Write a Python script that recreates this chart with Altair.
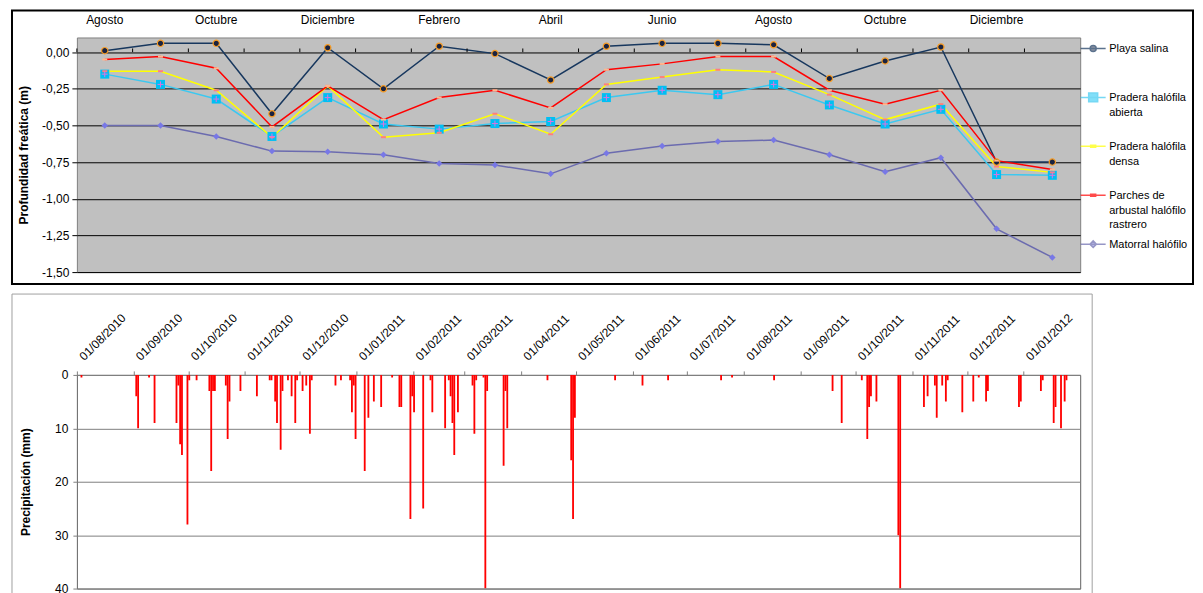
import altair as alt
import pandas as pd

FONT = "Liberation Sans"

# ---------------- Top chart data (profundidad freática, m) ----------------
meses = ["2010-08", "2010-09", "2010-10", "2010-11", "2010-12", "2011-01",
         "2011-02", "2011-03", "2011-04", "2011-05", "2011-06", "2011-07",
         "2011-08", "2011-09", "2011-10", "2011-11", "2011-12", "2012-01"]
nombres_mes = ["Agosto", "Septiembre", "Octubre", "Noviembre", "Diciembre", "Enero",
               "Febrero", "Marzo", "Abril", "Mayo", "Junio", "Julio",
               "Agosto", "Septiembre", "Octubre", "Noviembre", "Diciembre", "Enero"]

series = ["Playa salina", "Pradera halófila abierta", "Pradera halófila densa",
          "Parches de arbustal halófilo rastrero", "Matorral halófilo"]

playa_salina = [0.01, 0.06, 0.06, -0.42, 0.03, -0.25, 0.04, -0.01, -0.19,
                0.04, 0.06, 0.06, 0.05, -0.18, -0.06, 0.035, -0.75, -0.75]
pradera_abierta = [-0.15, -0.22, -0.32, -0.575, -0.31, -0.49, -0.525, -0.487, -0.473,
                   -0.31, -0.26, -0.29, -0.22, -0.36, -0.49, -0.39, -0.835, -0.84]
pradera_densa = [-0.13, -0.13, -0.26, -0.58, -0.23, -0.58, -0.55, -0.42, -0.56,
                 -0.22, -0.17, -0.12, -0.135, -0.29, -0.46, -0.355, -0.78, -0.82]
parches = [-0.05, -0.03, -0.11, -0.51, -0.23, -0.46, -0.31, -0.26, -0.38,
           -0.12, -0.08, -0.03, -0.03, -0.26, -0.355, -0.26, -0.74, -0.80]
matorral = [-0.50, -0.50, -0.575, -0.675, -0.68, -0.70, -0.76, -0.77, -0.83,
            -0.69, -0.64, -0.61, -0.60, -0.70, -0.815, -0.72, -1.205, -1.40]

colores_linea = ["#17375E", "#3CC8F0", "#FFFF00", "#FF0000", "#6B6BAF"]
colores_marcador = ["#1A2340", "#00BFF3", "#FF7C80", "#FFB890", "#7878E6"]
# marker shapes used on the plot (unit paths, size 100 -> 5 px per unit)
formas_marcador = [
    "M0.6,0A0.6,0.6,0,1,1,-0.6,0A0.6,0.6,0,1,1,0.6,0Z",
    "M-0.9,-0.9L0.9,-0.9L0.9,0.9L-0.9,0.9Z",
    "M-0.5,-0.2L0.5,-0.2L0.5,0.2L-0.5,0.2Z",
    "M-0.5,-0.2L0.5,-0.2L0.5,0.2L-0.5,0.2Z",
    "M0,-0.65L0.65,0L0,0.65L-0.65,0Z",
]
# legend symbols: a line segment plus the marker (drawn 1 unit lower to sit on the first text line)
formas_leyenda = [
    "M-2.5,1L2.5,1M0.6,1A0.6,0.6,0,1,1,-0.6,1A0.6,0.6,0,1,1,0.6,1Z",
    "M-2.5,1L2.5,1M-0.9,0.1L0.9,0.1L0.9,1.9L-0.9,1.9Z",
    "M-2.5,1L2.5,1M-0.5,0.8L0.5,0.8L0.5,1.2L-0.5,1.2Z",
    "M-2.5,1L2.5,1M-0.5,0.8L0.5,0.8L0.5,1.2L-0.5,1.2Z",
    "M-2.5,1L2.5,1M0,0.35L0.65,1L0,1.65L-0.65,1Z",
]
etiquetas_leyenda = [
    ["Playa salina", "", ""],
    ["Pradera halófila", "abierta", ""],
    ["Pradera halófila", "densa", ""],
    ["Parches de", "arbustal halófilo", "rastrero"],
    ["Matorral halófilo", "", ""],
]
y_ticks_top = [-1.5, -1.25, -1.0, -0.75, -0.5, -0.25, 0.0]

# ---------------- Bottom chart data (precipitación, mm) ----------------
fechas = [
    "2010-08-03", "2010-09-02", "2010-09-03", "2010-09-09", "2010-09-12", "2010-09-24",
    "2010-09-25", "2010-09-26", "2010-09-27", "2010-09-30", "2010-10-01", "2010-10-05",
    "2010-10-12", "2010-10-13", "2010-10-14", "2010-10-15", "2010-10-21", "2010-10-22",
    "2010-10-23", "2010-10-29", "2010-11-07", "2010-11-14", "2010-11-15", "2010-11-17",
    "2010-11-18", "2010-11-20", "2010-11-21", "2010-11-24", "2010-11-26", "2010-11-28",
    "2010-11-29", "2010-12-02", "2010-12-04", "2010-12-06", "2010-12-07", "2010-12-20",
    "2010-12-23", "2010-12-28", "2010-12-29", "2010-12-30", "2010-12-31", "2011-01-05",
    "2011-01-07", "2011-01-10", "2011-01-14", "2011-01-20", "2011-01-24", "2011-01-25",
    "2011-01-30", "2011-01-31", "2011-02-01", "2011-02-06", "2011-02-10", "2011-02-11",
    "2011-02-18", "2011-02-20", "2011-02-21", "2011-02-22", "2011-02-23", "2011-02-25",
    "2011-03-05", "2011-03-06", "2011-03-07", "2011-03-11", "2011-03-12", "2011-03-13",
    "2011-03-22", "2011-03-23", "2011-03-24", "2011-04-15", "2011-04-28", "2011-04-29",
    "2011-04-30", "2011-05-22", "2011-06-06", "2011-06-20", "2011-07-19", "2011-07-25",
    "2011-08-17", "2011-09-18", "2011-09-23", "2011-10-04", "2011-10-07", "2011-10-08",
    "2011-10-09", "2011-10-12", "2011-10-24", "2011-10-25", "2011-11-07", "2011-11-09",
    "2011-11-13", "2011-11-14", "2011-11-17", "2011-11-19", "2011-11-20", "2011-11-28",
    "2011-12-04", "2011-12-07", "2011-12-11", "2011-12-12", "2011-12-29", "2011-12-30",
    "2012-01-10", "2012-01-11", "2012-01-17", "2012-01-18", "2012-01-21", "2012-01-23",
    "2012-01-24",
]
lluvia_mm = [
    0.5, 4, 10, 0.5, 9, 9,
    2, 13, 15, 28, 1, 1,
    3, 18, 3, 3, 2, 12,
    5, 3, 4, 1, 1, 5,
    9, 14, 3, 1, 4, 9,
    1, 3, 2, 11, 1, 2,
    1, 1, 7, 2, 12, 18,
    8, 5, 6, 0.5, 6, 6,
    27, 4, 7, 25, 1, 7,
    10, 1, 4, 9, 15, 7,
    2, 11, 1, 0.5, 40, 3,
    17, 3, 10, 1, 16, 27,
    8, 1, 2, 1, 1, 0.5,
    1, 3, 9, 1, 12, 6,
    4, 5, 30, 40, 6, 4,
    2, 8, 2, 5, 1, 7,
    5, 0.5, 5, 3, 6, 5,
    3, 1, 9, 6, 10, 5,
    1,
]
inicio_meses = [(2010, m) for m in range(8, 13)] + [(2011, m) for m in range(1, 13)] + [(2012, 1)]
y_ticks_bottom = [0, 10, 20, 30, 40]

# ---------------- Build tables ----------------
rows = []
for s, vals in zip(series, [playa_salina, pradera_abierta, pradera_densa, parches, matorral]):
    for m, v in zip(meses, vals):
        rows.append({"mes": m, "serie": s, "valor": v})
df = pd.DataFrame(rows)
df_series = pd.DataFrame({"serie": series})
df_meses = pd.DataFrame({"mes": meses})
df_p = pd.DataFrame({"fecha": fechas, "mm": lluvia_mm})
df_one = pd.DataFrame({"k": [0]})

# ---------------- Top chart ----------------
xs = alt.Scale(type="band", domain=meses, paddingInner=0, paddingOuter=0)
ys = alt.Scale(domain=[-1.5, 0.1], nice=False, zero=False)

label_expr_x = ("[" + ",".join("'%s'" % n for n in nombres_mes) + "][indexof(["
                + ",".join("'%s'" % m for m in meses) + "], datum.value)]")
label_expr_y = "replace(replace(format(datum.value, '.2f'), '.', ','), '\u2212', '-')"
legend_expr = ("[" + ",".join("[" + ",".join("'%s'" % t for t in e) + "]" for e in etiquetas_leyenda)
               + "][indexof([" + ",".join("'%s'" % s for s in series) + "], datum.label)]")

x_axis_top = alt.Axis(orient="top", title=None, values=meses[::2], labelExpr=label_expr_x,
                      ticks=False, domain=False, grid=False, labelAngle=0,
                      labelFontSize=12, labelPadding=11, labelColor="black")
y_axis_top = alt.Axis(title="Profundidad freática (m)", values=y_ticks_top,
                      labelExpr=label_expr_y, grid=True, gridColor="black", gridOpacity=1,
                      domain=False, ticks=True, tickColor="black", tickSize=5,
                      labelPadding=3, labelFontSize=12, labelColor="black",
                      titleFontSize=12, titleFontWeight="bold", titlePadding=11,
                      titleColor="black")

leg = alt.Legend(title=None, orient="none", legendX=1012, legendY=0, direction="vertical",
                 labelFont=FONT, labelFontSize=11, labelColor="black", labelExpr=legend_expr,
                 labelLimit=300, labelOffset=10, labelBaseline="top",
                 symbolSize=100, symbolStrokeWidth=1.5, rowPadding=3, gridAlign="all",
                 padding=0)

marco = alt.Chart(df_one).mark_rect(fillOpacity=0, stroke="black", strokeWidth=2).encode(
    x=alt.value(-65), x2=alt.value(1118), y=alt.value(-27), y2=alt.value(247))

lineas = alt.Chart(df).mark_line(strokeWidth=1.5).encode(
    x=alt.X("mes:N", scale=xs, axis=x_axis_top),
    y=alt.Y("valor:Q", scale=ys, axis=y_axis_top),
    stroke=alt.Stroke("serie:N", scale=alt.Scale(domain=series, range=colores_linea), legend=leg),
)

marcas = alt.Chart(df_meses).mark_rule(color="black", strokeWidth=1).encode(
    x=alt.X("mes:N", scale=xs, bandPosition=0, axis=x_axis_top),
    y=alt.YDatum(0, scale=ys, axis=y_axis_top),
    y2=alt.datum(0.025),
)

# invisible layer that only feeds the legend (fill + shape merged with the line stroke)
leyenda = alt.Chart(df_series).mark_point(filled=True, size=0).encode(
    fill=alt.Fill("serie:N", scale=alt.Scale(domain=series, range=colores_marcador), legend=leg),
    shape=alt.Shape("serie:N", scale=alt.Scale(domain=series, range=formas_leyenda), legend=leg),
)

capas_marcadores = []
for s, forma, color in zip(series, formas_marcador, colores_marcador):
    capas_marcadores.append(
        alt.Chart(df).transform_filter(alt.datum.serie == s).mark_point(
            shape=forma, filled=True, fill=color, size=100, opacity=1, strokeWidth=0
        ).encode(x=alt.X("mes:N", scale=xs, axis=x_axis_top),
                 y=alt.Y("valor:Q", scale=ys, axis=y_axis_top))
    )

anillos = alt.Chart(df).transform_filter(alt.datum.serie == series[0]).mark_point(
    shape="circle", filled=False, stroke="#F59A23", strokeWidth=1.2, size=40, opacity=1
).encode(x=alt.X("mes:N", scale=xs, axis=x_axis_top),
         y=alt.Y("valor:Q", scale=ys, axis=y_axis_top))

cruces = alt.Chart(df).transform_filter(alt.datum.serie == series[1]).mark_point(
    shape="M-1,0L1,0M0,-1L0,1", filled=False, stroke="#E070E0", strokeWidth=1, size=36, opacity=1
).encode(x=alt.X("mes:N", scale=xs, axis=x_axis_top),
         y=alt.Y("valor:Q", scale=ys, axis=y_axis_top))

top = alt.layer(marco, lineas, marcas, leyenda, *capas_marcadores, anillos, cruces).properties(
    width=1005, height=235,
    view=alt.ViewBackground(fill="#C0C0C0", stroke="#808080", strokeWidth=1),
)

# ---------------- Bottom chart ----------------
marco2 = alt.Chart(df_one).mark_rect(fillOpacity=0, stroke="#A0A0A0", strokeWidth=1).encode(
    x=alt.value(-65), x2=alt.value(1017), y=alt.value(-81), y2=alt.value(260))

x_vals = [alt.DateTime(year=y, month=m, date=1, utc=True) for (y, m) in inicio_meses]

barras = alt.Chart(df_p).transform_calculate(
    ini="toDate(datum.fecha)",
    fin="time(toDate(datum.fecha)) + 86400000",
).mark_rect(color="#FF0000", clip=True).encode(
    x=alt.X("ini:T",
            scale=alt.Scale(type="utc", nice=False,
                            domain=[alt.DateTime(year=2010, month=8, date=1, utc=True),
                                    alt.DateTime(year=2012, month=2, date=1, utc=True)]),
            axis=alt.Axis(orient="top", title=None, values=x_vals,
                          labelExpr="utcFormat(datum.value, '%d/%m/%Y')",
                          labelAngle=-45, labelAlign="left", labelBaseline="middle",
                          labelFontSize=12, labelOffset=4,
                          labelColor="black", grid=False, domainColor="#808080",
                          tickColor="#808080", tickSize=4, labelPadding=13,
                          labelOverlap=False)),
    x2="fin:T",
    y=alt.Y("mm:Q", scale=alt.Scale(domain=[0, 40], reverse=True, nice=False, zero=True),
            axis=alt.Axis(title="Precipitación (mm)", values=y_ticks_bottom, grid=True,
                          gridColor="#808080", gridOpacity=1, domain=False,
                          tickColor="#808080", tickSize=4, labelPadding=5,
                          labelFontSize=12, labelColor="black", titleFontSize=12,
                          titleFontWeight="bold", titlePadding=22, titleColor="black")),
    y2=alt.datum(0),
)

bottom = alt.layer(marco2, barras).properties(
    width=1005, height=214,
    view=alt.ViewBackground(fill="white", stroke="#606060", strokeWidth=1),
)

chart = alt.vconcat(top, bottom, spacing=7).resolve_scale(
    stroke="independent", fill="independent", shape="independent"
).properties(
    padding={"left": 2, "top": 0, "right": 0, "bottom": 0}
).configure(
    font=FONT, style={"guide-label": {"lineHeight": 14.5}}
).configure_axis(labelFont=FONT, titleFont=FONT)

chart.save("out.html", embed_options={"renderer": "svg", "actions": False})
